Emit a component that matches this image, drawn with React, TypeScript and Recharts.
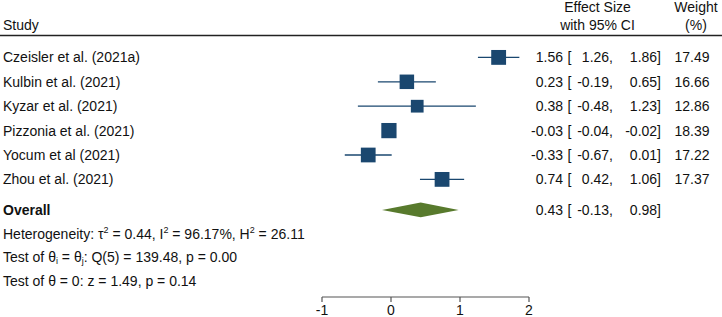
import React from 'react';
import { ComposedChart, Scatter, Area, XAxis, YAxis, ErrorBar } from 'recharts';

// study rows, top to bottom
const studyNames = [
  'Czeisler et al. (2021a)',
  'Kulbin et al. (2021)',
  'Kyzar et al. (2021)',
  'Pizzonia et al. (2021)',
  'Yocum et al (2021)',
  'Zhou et al. (2021)',
];
const effectSizes = [1.56, 0.23, 0.38, -0.03, -0.33, 0.74];
const ciLower = [1.26, -0.19, -0.48, -0.04, -0.67, 0.42];
const ciUpper = [1.86, 0.65, 1.23, -0.02, 0.01, 1.06];
const weights = [17.49, 16.66, 12.86, 18.39, 17.22, 17.37];

const overallEffect = 0.43;
const overallLower = -0.13;
const overallUpper = 0.98;

const xTicks = [-1, 0, 1, 2];

const NAVY = '#1a476f';
const OLIVE = '#587a2d';
const TEXT = '#111';
const FONT = '"Liberation Sans", Arial, Helvetica, sans-serif';

// row slots on the y axis (1 = first study)
const OVERALL_ROW = 7.25;
const NOTE_ROWS = [8.25, 9.2, 10.15];
const DIAMOND_HALF = 0.3;

const fmt = (v: number) => v.toFixed(2);

const studyData = effectSizes.map((es, i) => ({
  x: es,
  y: i + 1,
  err: [es - ciLower[i], ciUpper[i] - es],
  w: weights[i],
}));

const diamondData = [
  { x: overallLower, band: [OVERALL_ROW, OVERALL_ROW] },
  { x: overallEffect, band: [OVERALL_ROW - DIAMOND_HALF, OVERALL_ROW + DIAMOND_HALF] },
  { x: overallUpper, band: [OVERALL_ROW, OVERALL_ROW] },
];

const rowTicks = [...studyNames.map((_, i) => i + 1), OVERALL_ROW, ...NOTE_ROWS];

// numbers on the right: estimate [lower, upper] weight
const Numbers = ({ y, es, lo, hi, w }: { y: number; es: number; lo: number; hi: number; w?: number }) => {
  const t = { y, dy: '0.355em', fontSize: 14, fill: TEXT };
  return (
    <g>
      <text {...t} x={563} textAnchor="end">{fmt(es)}</text>
      <text {...t} x={567.5} textAnchor="start">[</text>
      <text {...t} x={613} textAnchor="end">{fmt(lo)},</text>
      <text {...t} x={661} textAnchor="end">{fmt(hi)}]</text>
      {w !== undefined && (
        <text {...t} x={709.5} textAnchor="end">{fmt(w)}</text>
      )}
    </g>
  );
};

const RowTick = (props: any) => {
  const { y, payload } = props;
  const v = payload.value as number;
  const common = { x: 3, y, dy: '0.355em', fontSize: 14, fill: TEXT, textAnchor: 'start' as const };
  if (v <= studyNames.length) {
    const i = v - 1;
    return (
      <g>
        <text {...common}>{studyNames[i]}</text>
        <Numbers y={y} es={effectSizes[i]} lo={ciLower[i]} hi={ciUpper[i]} w={weights[i]} />
      </g>
    );
  }
  if (v === OVERALL_ROW) {
    return (
      <g>
        <text {...common} fontWeight="bold">Overall</text>
        <Numbers y={y} es={overallEffect} lo={overallLower} hi={overallUpper} />
      </g>
    );
  }
  if (v === NOTE_ROWS[0]) {
    return (
      <text {...common}>
        <tspan>Heterogeneity: τ</tspan>
        <tspan dy={-6} fontSize={9}>2</tspan>
        <tspan dy={6}> = 0.44, I</tspan>
        <tspan dy={-6} fontSize={9}>2</tspan>
        <tspan dy={6}> = 96.17%, H</tspan>
        <tspan dy={-6} fontSize={9}>2</tspan>
        <tspan dy={6}> = 26.11</tspan>
      </text>
    );
  }
  if (v === NOTE_ROWS[1]) {
    return (
      <text {...common}>
        <tspan>Test of θ</tspan>
        <tspan dy={2} fontSize={9}>i</tspan>
        <tspan dy={-2}> = θ</tspan>
        <tspan dy={2} fontSize={9}>j</tspan>
        <tspan dy={-2}>: Q(5) = 139.48, p = 0.00</tspan>
      </text>
    );
  }
  return <text {...common}>Test of θ = 0: z = 1.49, p = 0.14</text>;
};

const StudySquare = (props: any) => {
  const { cx, cy, payload } = props;
  const side = 3.55 * Math.sqrt(payload.w);
  return <rect x={cx - side / 2} y={cy - side / 2} width={side} height={side} fill={NAVY} />;
};

export default function App() {
  return (
    <div
      style={{
        position: 'absolute',
        left: 0,
        top: 0,
        width: 722,
        height: 317,
        background: '#fff',
        fontFamily: FONT,
      }}
    >
      <ComposedChart
        width={722}
        height={317}
        data={diamondData}
        margin={{ top: 33, right: 193, bottom: 0, left: 0 }}
      >
        <XAxis
          dataKey="x"
          type="number"
          domain={[-1, 2]}
          ticks={xTicks}
          height={20}
          tickSize={5}
          tickMargin={3}
          interval={0}
          axisLine={{ stroke: '#555', strokeWidth: 1.2 }}
          tickLine={{ stroke: '#555', strokeWidth: 1.2 }}
          tick={{ fill: TEXT, fontSize: 14 }}
        />
        <YAxis
          yAxisId="left"
          dataKey="y"
          type="number"
          domain={[0, 10.82]}
          reversed
          ticks={rowTicks}
          interval={0}
          width={322}
          axisLine={false}
          tickLine={false}
          tick={<RowTick />}
        />
        <Area
          yAxisId="left"
          dataKey="band"
          type="linear"
          stroke="none"
          fill={OLIVE}
          fillOpacity={1}
          isAnimationActive={false}
        />
        <Scatter
          yAxisId="left"
          data={studyData}
          shape={<StudySquare />}
          isAnimationActive={false}
        >
          <ErrorBar dataKey="err" direction="x" width={0} stroke={NAVY} strokeWidth={1.3} />
        </Scatter>
      </ComposedChart>
      <svg
        width={722}
        height={40}
        style={{ position: 'absolute', left: 0, top: 0, pointerEvents: 'none' }}
        fontFamily={FONT}
        fontSize={14}
        fill={TEXT}
      >
        <text x={3} y={25} dy="0.355em">Study</text>
        <text x={597.5} y={7} dy="0.355em" textAnchor="middle">Effect Size</text>
        <text x={597.5} y={25} dy="0.355em" textAnchor="middle">with 95% CI</text>
        <text x={696} y={7} dy="0.355em" textAnchor="middle">Weight</text>
        <text x={696} y={25} dy="0.355em" textAnchor="middle">(%)</text>
        <line x1={0} x2={722} y1={35.5} y2={35.5} stroke="#222" strokeWidth={1.4} />
      </svg>
    </div>
  );
}
